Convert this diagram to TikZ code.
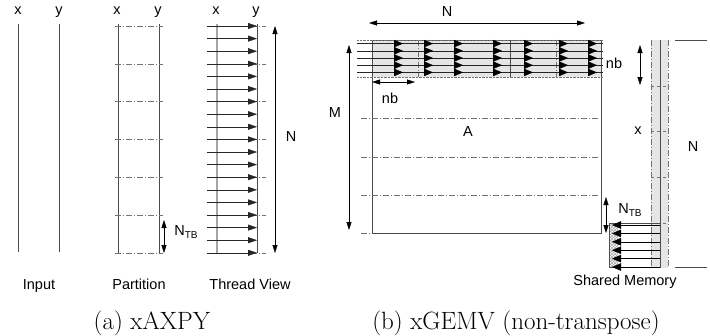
\documentclass[tikz,border=0pt]{standalone}
\usepackage{fontspec}
\newfontfamily\arialfont{Liberation Sans}
\usetikzlibrary{arrows.meta,patterns}

\newcommand{\ntb}{N\raisebox{-0.45ex}{\fontsize{10}{10}\selectfont TB}}

\begin{document}
\begin{tikzpicture}[x=1pt, y=-1pt, thin,
  >={Triangle[length=8pt,width=5pt]},
  lbl/.style={font=\arialfont\fontsize{14.5}{16}\selectfont, inner sep=1pt},
  captext/.style={font=\fontsize{25}{30}\selectfont, anchor=base, inner sep=0pt},
  vline/.style={black!70, line width=0.6pt},
  slice/.style={black!55, dash pattern=on 6pt off 2pt on 1pt off 2pt},
  thread/.style={black!85, -{Triangle[length=9pt,width=6pt]}},
  bigthread/.style={black, -{Triangle[length=9pt,width=7.5pt]}},
  dimarrow/.style={black, <->}]
  \useasboundingbox (0,0) rectangle (710,335);
  % (a) 输入
  \begin{scope}
    \node[lbl, anchor=base] (inx) at (18,14.5) {x};
    \node[lbl, anchor=base] (iny) at (59,14.5) {y};
    \draw[vline] (18,24) -- (18,252);
    \draw[vline] (59,24) -- (59,252);
    \node[lbl, anchor=base] (input) at (39,289) {Input};
  \end{scope}
  % (a) 分块
  \begin{scope}
    \node[lbl, anchor=base] (ptx) at (117,14.5) {x};
    \node[lbl, anchor=base] (pty) at (158,14.5) {y};
    \draw[vline] (118,24) -- (118,253);
    \draw[vline] (159,24) -- (159,253);
    \foreach \k in {0,...,6}
      \draw[slice] (115,{26+37.8*\k}) -- (163,{26+37.8*\k});
    \coordinate (ptop) at (164,220);
    \coordinate (pbot) at (164,253);
    \draw[dimarrow] (ptop) -- (pbot);
    \node[lbl] (ntba) at (186,232) {\ntb};
    \node[lbl, anchor=base] (partition) at (139,289) {Partition};
  \end{scope}
  % (a) 线程视图
  \begin{scope}
    \node[lbl, anchor=base] (thx) at (216,14.5) {x};
    \node[lbl, anchor=base] (thy) at (256,14.5) {y};
    \draw[black!35, line width=1.3pt] (217,24) -- (217,253);
    \draw[vline] (257,24) -- (257,253);
    \foreach \k in {0,...,6}
      \draw[slice] (207,{26+37.8*\k}) -- (266,{26+37.8*\k});
    \foreach \k in {0,...,18}
      \draw[thread] (207,{26+12.6*\k}) -- (257,{26+12.6*\k});
    \coordinate (ntop) at (275,26);
    \coordinate (nbot) at (275,253);
    \draw[dimarrow] (ntop) -- (nbot);
    \node[lbl] (na) at (291,137) {N};
    \node[lbl, anchor=base] (threadview) at (250,289) {Thread View};
  \end{scope}
  \node[captext] (capa) at (152,329) {(a) xAXPY};
  % (b) 矩阵 A
  \begin{scope}
    \fill[black!10] (372,40) rectangle (601,77);
    \foreach \y in {118,157,195}
      \draw[slice] (361,\y) -- (598,\y);
    \draw[slice] (361,233) -- (372,233);
    \draw[vline] (372,40) rectangle (601,233);
    % 上方线程块
    \draw[black!55, densely dotted] (357,40) -- (603,40);
    \draw[black!55, densely dotted] (357,77) -- (603,77);
    \draw[slice] (418,40) -- (418,77);
    \draw[slice] (556,40) -- (556,77);
    \draw[vline] (510,40) -- (510,77);
    \foreach \k in {0,...,4} {
      \draw[black!85] (357,{43.6+7.2*\k}) -- (603,{43.6+7.2*\k});
      \foreach \c in {403,433,463,502,533,568,597}
        \draw[bigthread] (\c-9,{43.6+7.2*\k}) -- (\c,{43.6+7.2*\k});
    }
    \coordinate (nbl) at (372,82);
    \coordinate (nbr) at (415,82);
    \draw[dimarrow] (nbl) -- (nbr);
    \node[lbl] (nbbot) at (390,98) {nb};
    \node[lbl] (nbright) at (614,63) {nb};
    \coordinate (nl) at (369,23);
    \coordinate (nr) at (585,23);
    \draw[dimarrow] (nl) -- (nr);
    \node[lbl] (nb1) at (447,12) {N};
    \coordinate (mtop) at (349,45);
    \coordinate (mbot) at (349,230);
    \draw[dimarrow] (mtop) -- (mbot);
    \node[lbl] (m) at (335,113) {M};
    \node[lbl] (a) at (468,132) {A};
  \end{scope}
  % (b) 向量 x
  \begin{scope}
    \fill[black!10] (651,40) rectangle (668,268);
    \draw[slice] (651,40) -- (651,268);
    \draw[slice] (668,40) -- (668,268);
    \draw[vline] (660,40) -- (660,268);
    \foreach \y in {86,131,177,223}
      \draw[black!55, dashed] (651,\y) -- (668,\y);
    \coordinate (xtop) at (640,45);
    \coordinate (xbot) at (640,85);
    \draw[dimarrow] (xtop) -- (xbot);
    \node[lbl] (xlab) at (638,131) {x};
    \draw[vline] (675,40) -- (707,40);
    \draw[vline] (675,267) -- (707,267);
    \node[lbl] (nb2) at (693,147) {N};
  \end{scope}
  % (b) 共享内存
  \begin{scope}
    \fill[pattern=crosshatch, pattern color=black!35] (609,223) rectangle (618,267);
    \draw[vline] (609,223) rectangle (660,267);
    \foreach \k in {0,...,5}
      \draw[bigthread] (660,{225+8.4*\k}) -- (612,{225+8.4*\k});
    \coordinate (stop) at (606,197);
    \coordinate (sbot) at (606,233);
    \draw[dimarrow] (stop) -- (sbot);
    \node[lbl] (ntbb) at (630,210) {\ntb};
    \node[lbl, anchor=base] (shared) at (625,285) {Shared Memory};
  \end{scope}
  \node[captext] (capb) at (516,329) {(b) xGEMV (non-transpose)};
\end{tikzpicture}
\end{document}
